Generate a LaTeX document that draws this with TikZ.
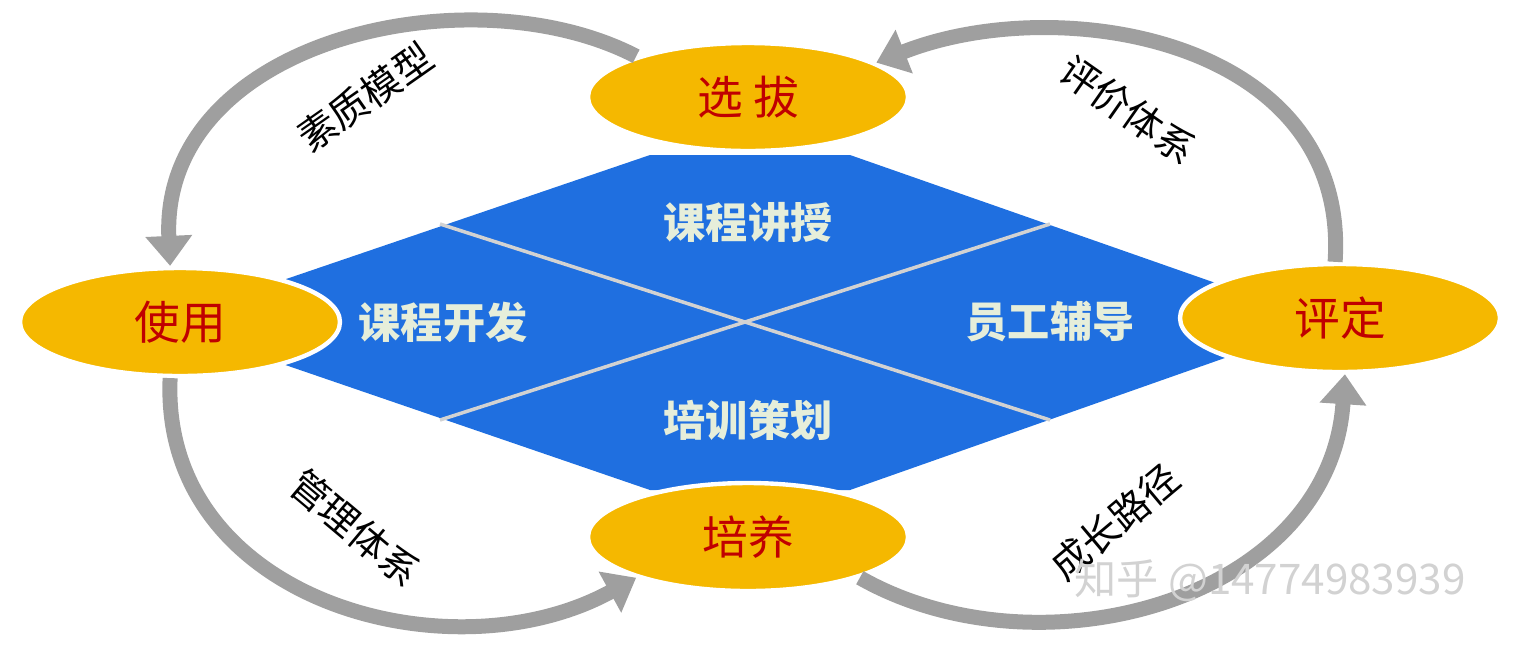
\documentclass[tikz,border=0pt]{standalone}
\usepackage{fontspec}
\setmainfont{Noto Sans CJK SC}
\usetikzlibrary{arrows.meta,shapes.geometric}
\definecolor{gold}{HTML}{F5B800}
\definecolor{diablue}{HTML}{1F6FE0}
\definecolor{darkred}{HTML}{C00000}
\definecolor{paleg}{HTML}{E6EEDA}
\begin{document}
\begin{tikzpicture}[x=0.02cm,y=-0.02cm,
  stage/.style={ellipse,draw=white,line width=2.5pt,fill=gold,minimum width=320*0.02cm,minimum height=108*0.02cm,text=darkred,font=\fontsize{26}{30}\selectfont},
  part/.style={text=paleg,font=\fontsize{24}{28}\selectfont\bfseries},
  loop/.style={draw=gray!75,line width=0.3cm,-{Triangle[length=0.6cm,width=0.9cm]}},
  side/.style={font=\fontsize{22}{26}\selectfont}]
\useasboundingbox (0,0) rectangle (1520,647);
%---diamond-------------------------------------------
\fill[diablue] (160,322) -- (650,155) -- (850,155) -- (1327,322) -- (850,490) -- (650,490) -- cycle;
\draw[gray!35,line width=2pt] (440,224) -- (1050,420) (440,420) -- (1050,224);
\node[part] (kcjs) at (748,222) {课程讲授};
\node[part] (kckf) at (443,322) {课程开发};
\node[part] (ygfd) at (1050,322) {员工辅导};
\node[part] (pxch) at (748,420) {培训策划};
%---stages-------------------------------------------
\node[stage] (xb) at (748,97) {选 拔};
\node[stage] (sy) at (180,322) {使用};
\node[stage] (pd) at (1340,318) {评定};
\node[stage] (py) at (748,537) {培养};
%---loops-------------------------------------------
\draw[loop] (xb.160) .. controls (470,-30) and (160,40) .. (sy.100);
\draw[loop] (pd.95) .. controls (1350,40) and (1060,-10) .. (xb.15);
\draw[loop] (sy.260) .. controls (160,600) and (450,680) .. (py.200);
\draw[loop] (py.340) .. controls (1040,680) and (1330,600) .. (pd.275);
%---text-------------------------------------------
\node[side,rotate=35] (szmx) at (365,97) {素质模型};
\node[side,rotate=-35] (pjtx) at (1128,110) {评价体系};
\node[side,rotate=-40] (gltx) at (355,528) {管理体系};
\node[side,rotate=40] (czlj) at (1115,522) {成长路径};
\node[text=gray!35,font=\fontsize{24}{28}\selectfont] (zh) at (1270,580) {知乎 @14774983939};
\end{tikzpicture}
\end{document}
